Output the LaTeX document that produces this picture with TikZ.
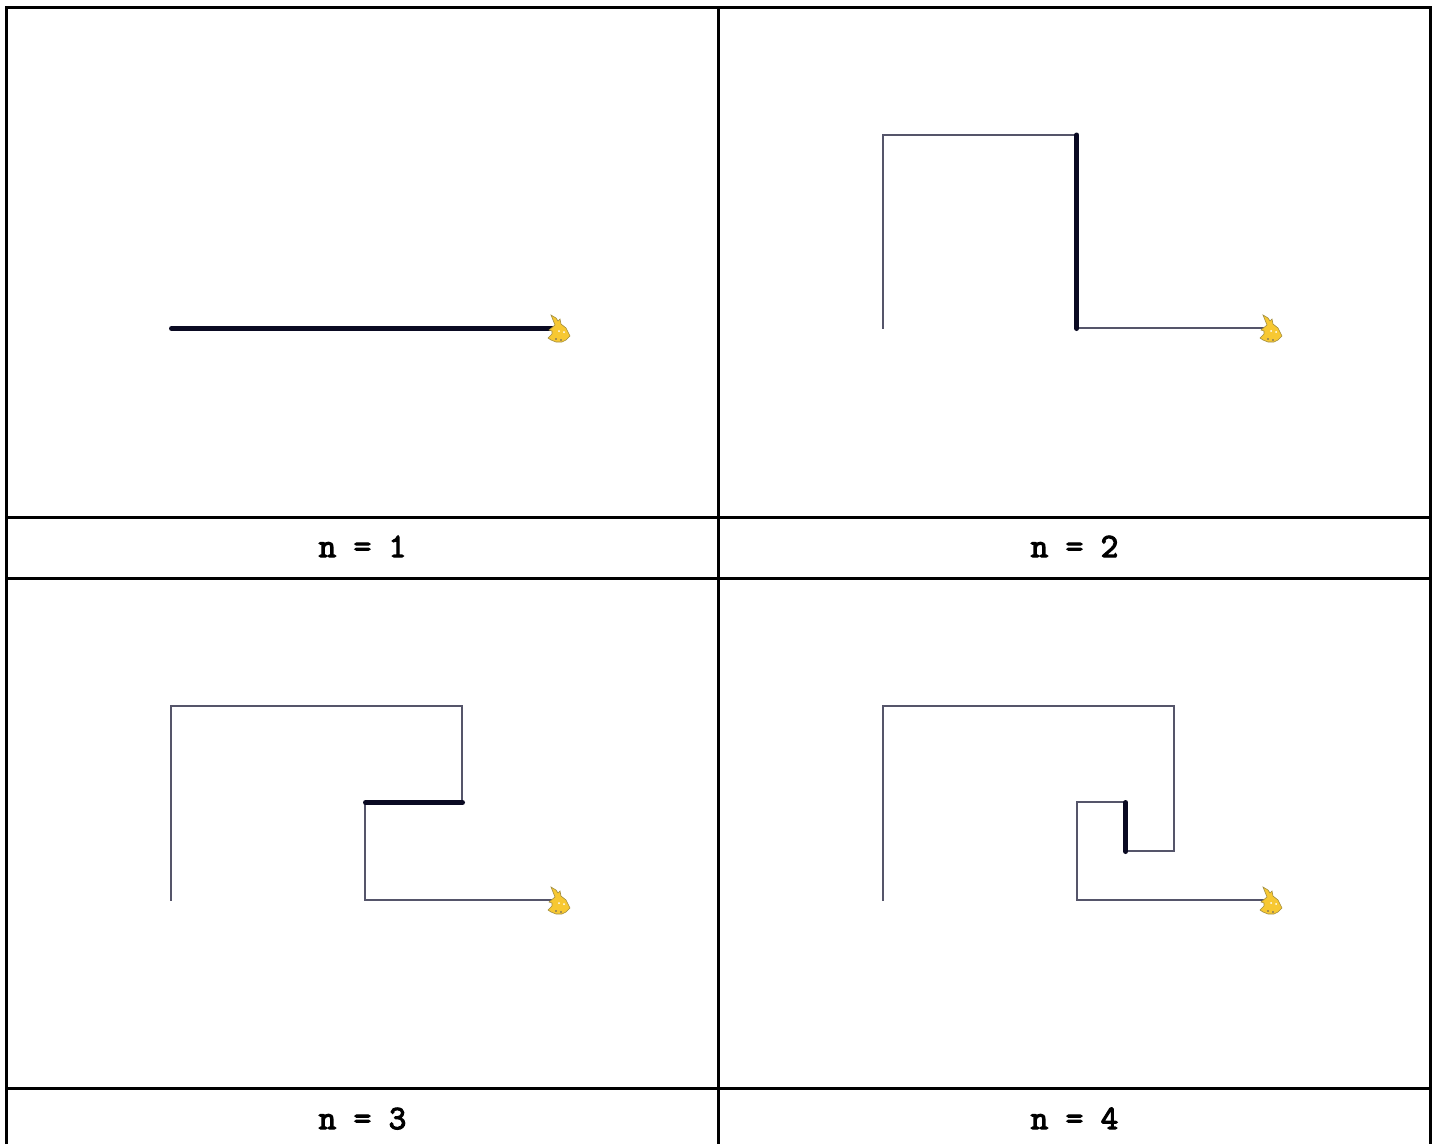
\documentclass[tikz,border=0pt]{standalone}
\usepackage{fontspec}
\newfontfamily\capfont[FakeBold=3.5]{Latin Modern Mono}
\definecolor{inkdark}{HTML}{0A0A22}
\definecolor{inkthin}{HTML}{55556A}
\definecolor{turtlefill}{HTML}{F7C832}
\definecolor{turtleedge}{HTML}{A08C40}
\tikzset{
  gridline/.style={line width=3pt,black},
  thinpath/.style={line width=2pt,inkthin,line join=miter},
  thickpath/.style={line width=5pt,inkdark,line cap=round},
  caption/.style={font=\capfont\fontsize{34}{36}\selectfont,anchor=base,inner sep=0pt},
  turtle/.pic={
    \fill[turtlefill,draw=turtleedge,line width=.6pt]
      (-1,-13) -- (4,-10) -- (6,-7) -- (8,-9) -- (9,-4) -- (14,0) -- (18,8) -- (14,12) -- (10,14) -- (4,14) -- (-1,12) -- (-4,10) -- (0,6) -- (0,3) -- (-3,2) -- (3,-3) -- (1,-8) -- cycle;
    \fill[white] (7,3) circle (1pt) (12,4) circle (1pt);
    \fill[inkthin] (4,11) circle (.8pt) (9,12) circle (.8pt);
  }
}
\begin{document}
\begin{tikzpicture}[x=1pt,y=-1pt]
\useasboundingbox (0,0) rectangle (1434,1144);
% table
\draw[gridline] (6.5,1144) -- (6.5,7) -- (1430,7) -- (1430,1144);
\draw[gridline] (718,7) -- (718,1144);
\draw[gridline] (6.5,517.5) -- (1430,517.5);
\draw[gridline] (6.5,578) -- (1430,578);
\draw[gridline] (6.5,1088.5) -- (1430,1088.5);
% n=1
\draw[thickpath] (171.5,328.5) -- (552,328.5);
\pic at (552,328) {turtle};
% n=2
\draw[thinpath] (883,328.5) -- (883,135) -- (1077,135);
\draw[thinpath] (1077,328) -- (1264,328);
\draw[thickpath] (1076.8,135) -- (1076.8,328.5);
\pic at (1264,328) {turtle};
% n=3
\draw[thinpath] (171,900.5) -- (171,706) -- (462,706) -- (462,802);
\draw[thinpath] (365,802) -- (365,900) -- (552,900);
\draw[thickpath] (462.5,802.5) -- (365.5,802.5);
\pic at (552,900) {turtle};
% n=4
\draw[thinpath] (883,900.5) -- (883,706) -- (1174,706) -- (1174,851) -- (1126,851);
\draw[thinpath] (1126,802) -- (1077,802) -- (1077,900) -- (1264,900);
\draw[thickpath] (1125.8,851.5) -- (1125.8,802.5);
\pic at (1264,900) {turtle};
% captions
\node[caption] (c1) at (362.5,557) {n = 1};
\node[caption] (c2) at (1074.5,557) {n = 2};
\node[caption] (c3) at (362.5,1129) {n = 3};
\node[caption] (c4) at (1074.5,1129) {n = 4};
\end{tikzpicture}
\end{document}
